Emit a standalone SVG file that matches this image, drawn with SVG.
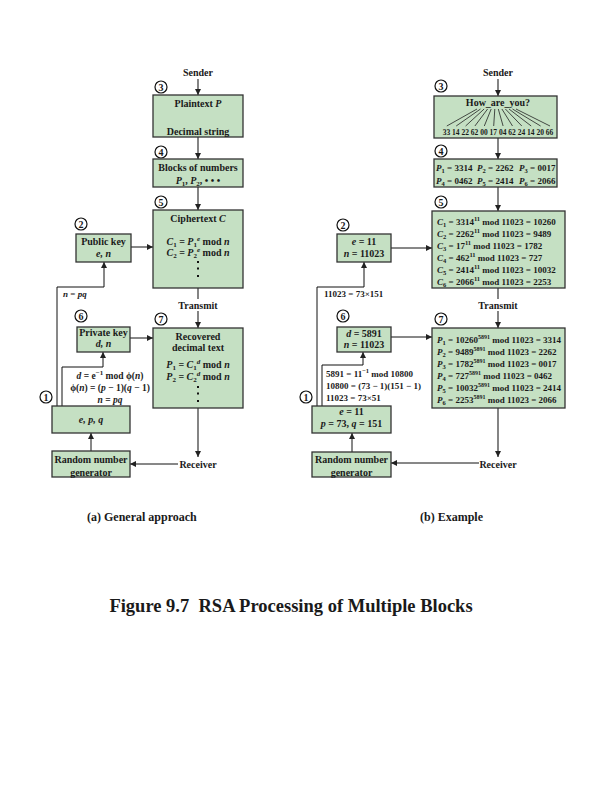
<svg xmlns="http://www.w3.org/2000/svg" width="612" height="792" viewBox="0 0 612 792">
<style>
text{font-family:"Liberation Serif","Times New Roman",serif;font-weight:bold;fill:#1a1a1a}
.t{font-size:10px;text-anchor:middle}
.s{font-size:9px}
.f{font-size:9.5px;text-anchor:middle}
.i{font-style:italic}
.box{fill:#c5e0c3;stroke:#333;stroke-width:1.3}
.main{stroke:#666;stroke-width:1.6;fill:none}
.thin{stroke:#111;stroke-width:1;fill:none}
.fan{stroke:#222;stroke-width:0.8}
.cn{fill:#fff;stroke:#111;stroke-width:1.2}
.cl{font-size:10px;text-anchor:middle}
.dot{fill:#111}
</style>
<defs>
<marker id="ah" markerWidth="6" markerHeight="6" refX="6" refY="3" orient="auto" markerUnits="userSpaceOnUse">
<path d="M0,0 L6,3 L0,6 z" fill="#222"/>
</marker>
</defs>
<rect width="612" height="792" fill="#fff"/>

<g id="connectors">
<line class="main" x1="198" y1="79" x2="198" y2="95" marker-end="url(#ah)"/>
<line class="main" x1="198" y1="110" x2="198" y2="125" marker-end="url(#ah)"/>
<line class="main" x1="198" y1="137" x2="198" y2="159" marker-end="url(#ah)"/>
<line class="main" x1="198" y1="187" x2="198" y2="210" marker-end="url(#ah)"/>
<line class="main" x1="198" y1="288" x2="198" y2="299"/>
<line class="main" x1="198" y1="311" x2="198" y2="328" marker-end="url(#ah)"/>
<line class="main" x1="198" y1="408" x2="198" y2="457" marker-end="url(#ah)"/>
<line class="thin" x1="131" y1="247" x2="153" y2="247" marker-end="url(#ah)"/>
<line class="thin" x1="130" y1="338" x2="153" y2="338" marker-end="url(#ah)"/>
<polyline class="thin" points="57,406 57,287 104,287 104,262" marker-end="url(#ah)"/>
<polyline class="thin" points="62,406 62,367 103,367 103,352" marker-end="url(#ah)"/>
<line class="thin" x1="91" y1="451" x2="91" y2="433" marker-end="url(#ah)"/>
<line class="thin" x1="178" y1="464" x2="130" y2="464" marker-end="url(#ah)"/>
<line class="main" x1="498" y1="79" x2="498" y2="96" marker-end="url(#ah)"/>
<line class="main" x1="498" y1="138" x2="498" y2="159" marker-end="url(#ah)"/>
<line class="main" x1="498" y1="187" x2="498" y2="211" marker-end="url(#ah)"/>
<line class="main" x1="498" y1="288" x2="498" y2="299"/>
<line class="main" x1="498" y1="311" x2="498" y2="328" marker-end="url(#ah)"/>
<line class="main" x1="498" y1="408" x2="498" y2="457" marker-end="url(#ah)"/>
<line class="thin" x1="391" y1="248" x2="432" y2="248" marker-end="url(#ah)"/>
<line class="thin" x1="391" y1="337" x2="432" y2="337" marker-end="url(#ah)"/>
<polyline class="thin" points="317,406 317,287 364,287 364,262" marker-end="url(#ah)"/>
<polyline class="thin" points="322,406 322,365 363,365 363,352" marker-end="url(#ah)"/>
<line class="thin" x1="352" y1="452" x2="352" y2="433" marker-end="url(#ah)"/>
<line class="thin" x1="479" y1="463" x2="391" y2="463" marker-end="url(#ah)"/>
</g>

<g id="sender-a"><text class="t" x="198" y="76">Sender</text></g>

<g id="step3-a">
<circle class="cn" cx="161" cy="87" r="6"/><text class="cl" x="161" y="90.5">3</text>
<rect class="box" x="153" y="95" width="90" height="42"/>
<text class="t" x="198" y="106.5">Plaintext <tspan class="i">P</tspan></text>
<text class="t" x="198" y="135">Decimal string</text>
</g>

<g id="step4-a">
<circle class="cn" cx="161" cy="152" r="6"/><text class="cl" x="161" y="155.5">4</text>
<rect class="box" x="153" y="159" width="90" height="28"/>
<text class="t" x="198" y="170.5">Blocks of numbers</text>
<text class="t" x="198" y="184"><tspan class="i">P</tspan><tspan font-size="7" dy="2">1</tspan><tspan dy="-2">, </tspan><tspan class="i">P</tspan><tspan font-size="7" dy="2">2</tspan><tspan dy="-2">, • • •</tspan></text>
</g>

<g id="step5-a">
<circle class="cn" cx="161" cy="202" r="6"/><text class="cl" x="161" y="205.5">5</text>
<rect class="box" x="153" y="210" width="90" height="78"/>
<text class="t" x="198" y="221.5">Ciphertext <tspan class="i">C</tspan></text>
<text class="t" x="198" y="245"><tspan class="i">C</tspan><tspan font-size="7" dy="2">1</tspan><tspan dy="-2"> = </tspan><tspan class="i">P</tspan><tspan font-size="7" dy="2">1</tspan><tspan font-size="7" class="i" dy="-6">e</tspan><tspan dy="4"> mod </tspan><tspan class="i">n</tspan></text>
<text class="t" x="198" y="256"><tspan class="i">C</tspan><tspan font-size="7" dy="2">2</tspan><tspan dy="-2"> = </tspan><tspan class="i">P</tspan><tspan font-size="7" dy="2">2</tspan><tspan font-size="7" class="i" dy="-6">e</tspan><tspan dy="4"> mod </tspan><tspan class="i">n</tspan></text>
<rect class="dot" x="197" y="261" width="2" height="2"/>
<rect class="dot" x="197" y="267.5" width="2" height="2"/>
<rect class="dot" x="197" y="275" width="2" height="2"/>
</g>

<g id="step2-a">
<circle class="cn" cx="81" cy="224" r="6"/><text class="cl" x="81" y="227.5">2</text>
<rect class="box" x="76" y="234" width="55" height="28"/>
<text class="t" x="103.5" y="244.5">Public key</text>
<text class="t i" x="103.5" y="256.5">e, n</text>
<text class="s i" x="63" y="297">n <tspan font-style="normal">=</tspan> pq</text>
</g>

<g id="transmit-a"><text class="t" x="198" y="308.5">Transmit</text></g>

<g id="step6-a">
<circle class="cn" cx="81" cy="316" r="6"/><text class="cl" x="81" y="319.5">6</text>
<rect class="box" x="77" y="327" width="53" height="25"/>
<text class="t" x="103.5" y="335.5">Private key</text>
<text class="t i" x="103.5" y="347">d, n</text>
</g>

<g id="step7-a">
<circle class="cn" cx="161" cy="319" r="6"/><text class="cl" x="161" y="322.5">7</text>
<rect class="box" x="153" y="328" width="90" height="80"/>
<text class="t" x="198" y="339.5">Recovered</text>
<text class="t" x="198" y="351">decimal text</text>
<text class="t" x="198" y="367.5"><tspan class="i">P</tspan><tspan font-size="7" dy="2">1</tspan><tspan dy="-2"> = </tspan><tspan class="i">C</tspan><tspan font-size="7" dy="2">1</tspan><tspan font-size="7" class="i" dy="-6">d</tspan><tspan dy="4"> mod </tspan><tspan class="i">n</tspan></text>
<text class="t" x="198" y="380"><tspan class="i">P</tspan><tspan font-size="7" dy="2">2</tspan><tspan dy="-2"> = </tspan><tspan class="i">C</tspan><tspan font-size="7" dy="2">2</tspan><tspan font-size="7" class="i" dy="-6">d</tspan><tspan dy="4"> mod </tspan><tspan class="i">n</tspan></text>
<rect class="dot" x="197" y="386" width="2" height="2"/>
<rect class="dot" x="197" y="392.5" width="2" height="2"/>
<rect class="dot" x="197" y="400" width="2" height="2"/>
</g>

<g id="formulas-a">
<text class="f" x="110" y="378.5"><tspan class="i">d</tspan> = e<tspan font-size="7" dy="-4">−1</tspan><tspan dy="4"> mod ϕ(</tspan><tspan class="i">n</tspan>)</text>
<text class="f" x="110" y="390.5">ϕ(<tspan class="i">n</tspan>) = (<tspan class="i">p</tspan> − 1)(<tspan class="i">q</tspan> − 1)</text>
<text class="f" x="110" y="402.5"><tspan class="i">n</tspan> = <tspan class="i">pq</tspan></text>
</g>

<g id="step1-a">
<circle class="cn" cx="46" cy="397" r="6"/><text class="cl" x="46" y="400.5">1</text>
<rect class="box" x="52" y="406" width="78" height="27"/>
<text class="t i" x="91" y="422.5">e, p, q</text>
</g>

<g id="rng-a">
<rect class="box" x="52" y="451" width="78" height="26"/>
<text class="t" x="91" y="462.5">Random number</text>
<text class="t" x="91" y="475.5">generator</text>
</g>

<g id="receiver-a"><text class="t" x="198" y="467.5">Receiver</text></g>

<g id="sender-b"><text class="t" x="498" y="76">Sender</text></g>

<g id="step3-b">
<circle class="cn" cx="441" cy="86" r="6"/><text class="cl" x="441" y="89.5">3</text>
<rect class="box" x="434" y="96" width="123" height="42"/>
<text class="t" x="498" y="106" font-size="10.5">How_are_you?</text>
<g class="fan">
<line x1="477" y1="109" x2="446.8" y2="126"/>
<line x1="480.5" y1="109" x2="456.2" y2="126"/>
<line x1="484.1" y1="109" x2="465.6" y2="126"/>
<line x1="487.6" y1="109" x2="474.9" y2="126"/>
<line x1="491.2" y1="109" x2="484.3" y2="126"/>
<line x1="494.8" y1="109" x2="493.7" y2="126"/>
<line x1="498.3" y1="109" x2="503.1" y2="126"/>
<line x1="501.9" y1="109" x2="512.5" y2="126"/>
<line x1="505.4" y1="109" x2="521.8" y2="126"/>
<line x1="509" y1="109" x2="531.2" y2="126"/>
<line x1="512.5" y1="109" x2="540.6" y2="126"/>
<line x1="516" y1="109" x2="550" y2="126"/>
</g>
<text font-size="7.5" x="498" y="134.5" text-anchor="middle">33 14 22 62 00 17 04 62 24 14 20 66</text>
</g>

<g id="step4-b">
<circle class="cn" cx="441" cy="151" r="6"/><text class="cl" x="441" y="154.5">4</text>
<rect class="box" x="434" y="159" width="123" height="28"/>
<text class="s" y="171"><tspan x="436" class="i">P</tspan><tspan font-size="6.5" dy="2">1</tspan><tspan dy="-2"> = 3314</tspan><tspan x="477" class="i">P</tspan><tspan font-size="6.5" dy="2">2</tspan><tspan dy="-2"> = 2262</tspan><tspan x="519" class="i">P</tspan><tspan font-size="6.5" dy="2">3</tspan><tspan dy="-2"> = 0017</tspan></text>
<text class="s" y="184"><tspan x="436" class="i">P</tspan><tspan font-size="6.5" dy="2">4</tspan><tspan dy="-2"> = 0462</tspan><tspan x="477" class="i">P</tspan><tspan font-size="6.5" dy="2">5</tspan><tspan dy="-2"> = 2414</tspan><tspan x="519" class="i">P</tspan><tspan font-size="6.5" dy="2">6</tspan><tspan dy="-2"> = 2066</tspan></text>
</g>

<g id="step5-b">
<circle class="cn" cx="441" cy="202" r="6"/><text class="cl" x="441" y="205.5">5</text>
<rect class="box" x="432" y="211" width="133" height="77"/>
<text class="s" x="437" y="224.5"><tspan class="i">C</tspan><tspan font-size="6.5" dy="2">1</tspan><tspan dy="-2"> = 3314</tspan><tspan font-size="6.5" dy="-4">11</tspan><tspan dy="4"> mod 11023 = 10260</tspan></text>
<text class="s" x="437" y="236.5"><tspan class="i">C</tspan><tspan font-size="6.5" dy="2">2</tspan><tspan dy="-2"> = 2262</tspan><tspan font-size="6.5" dy="-4">11</tspan><tspan dy="4"> mod 11023 = 9489</tspan></text>
<text class="s" x="437" y="248.5"><tspan class="i">C</tspan><tspan font-size="6.5" dy="2">3</tspan><tspan dy="-2"> = 17</tspan><tspan font-size="6.5" dy="-4">11</tspan><tspan dy="4"> mod 11023 = 1782</tspan></text>
<text class="s" x="437" y="260.5"><tspan class="i">C</tspan><tspan font-size="6.5" dy="2">4</tspan><tspan dy="-2"> = 462</tspan><tspan font-size="6.5" dy="-4">11</tspan><tspan dy="4"> mod 11023 = 727</tspan></text>
<text class="s" x="437" y="272.5"><tspan class="i">C</tspan><tspan font-size="6.5" dy="2">5</tspan><tspan dy="-2"> = 2414</tspan><tspan font-size="6.5" dy="-4">11</tspan><tspan dy="4"> mod 11023 = 10032</tspan></text>
<text class="s" x="437" y="284.5"><tspan class="i">C</tspan><tspan font-size="6.5" dy="2">6</tspan><tspan dy="-2"> = 2066</tspan><tspan font-size="6.5" dy="-4">11</tspan><tspan dy="4"> mod 11023 = 2253</tspan></text>
</g>

<g id="step2-b">
<circle class="cn" cx="343" cy="225" r="6"/><text class="cl" x="343" y="228.5">2</text>
<rect class="box" x="337" y="234" width="54" height="28"/>
<text class="t" x="364" y="244.5"><tspan class="i">e</tspan> = 11</text>
<text class="t" x="364" y="256.5"><tspan class="i">n</tspan> = 11023</text>
<text class="s" x="324" y="297">11023 = 73×151</text>
</g>

<g id="transmit-b"><text class="t" x="498" y="308.5">Transmit</text></g>

<g id="step6-b">
<circle class="cn" cx="343" cy="316" r="6"/><text class="cl" x="343" y="319.5">6</text>
<rect class="box" x="337" y="327" width="54" height="25"/>
<text class="t" x="364" y="336.5"><tspan class="i">d</tspan> = 5891</text>
<text class="t" x="364" y="348"><tspan class="i">n</tspan> = 11023</text>
</g>

<g id="step7-b">
<circle class="cn" cx="441" cy="319" r="6"/><text class="cl" x="441" y="322.5">7</text>
<rect class="box" x="432" y="328" width="133" height="80"/>
<text class="s" x="437" y="342.5"><tspan class="i">P</tspan><tspan font-size="6.5" dy="2">1</tspan><tspan dy="-2"> = 10260</tspan><tspan font-size="6" dy="-4">5891</tspan><tspan dy="4"> mod 11023 = 3314</tspan></text>
<text class="s" x="437" y="354.5"><tspan class="i">P</tspan><tspan font-size="6.5" dy="2">2</tspan><tspan dy="-2"> = 9489</tspan><tspan font-size="6" dy="-4">5891</tspan><tspan dy="4"> mod 11023 = 2262</tspan></text>
<text class="s" x="437" y="366.5"><tspan class="i">P</tspan><tspan font-size="6.5" dy="2">3</tspan><tspan dy="-2"> = 1782</tspan><tspan font-size="6" dy="-4">5891</tspan><tspan dy="4"> mod 11023 = 0017</tspan></text>
<text class="s" x="437" y="378.5"><tspan class="i">P</tspan><tspan font-size="6.5" dy="2">4</tspan><tspan dy="-2"> = 727</tspan><tspan font-size="6" dy="-4">5891</tspan><tspan dy="4"> mod 11023 = 0462</tspan></text>
<text class="s" x="437" y="390.5"><tspan class="i">P</tspan><tspan font-size="6.5" dy="2">5</tspan><tspan dy="-2"> = 10032</tspan><tspan font-size="6" dy="-4">5891</tspan><tspan dy="4"> mod 11023 = 2414</tspan></text>
<text class="s" x="437" y="402.5"><tspan class="i">P</tspan><tspan font-size="6.5" dy="2">6</tspan><tspan dy="-2"> = 2253</tspan><tspan font-size="6" dy="-4">5891</tspan><tspan dy="4"> mod 11023 = 2066</tspan></text>
</g>

<g id="formulas-b">
<text class="s" x="326" y="377">5891 = 11<tspan font-size="6.5" dy="-4">−1</tspan><tspan dy="4"> mod 10800</tspan></text>
<text class="s" x="326" y="389">10800 = (73 − 1)(151 − 1)</text>
<text class="s" x="326" y="401">11023 = 73×51</text>
</g>

<g id="step1-b">
<circle class="cn" cx="306" cy="397" r="6"/><text class="cl" x="306" y="400.5">1</text>
<rect class="box" x="312" y="406" width="79" height="27"/>
<text class="t" x="351.5" y="415"><tspan class="i">e</tspan> = 11</text>
<text class="t" x="351.5" y="427"><tspan class="i">p</tspan> = 73, <tspan class="i">q</tspan> = 151</text>
</g>

<g id="rng-b">
<rect class="box" x="312" y="452" width="79" height="25"/>
<text class="t" x="351.5" y="462.5">Random number</text>
<text class="t" x="351.5" y="475.5">generator</text>
</g>

<g id="receiver-b"><text class="t" x="498" y="467.5">Receiver</text></g>

<g id="captions">
<text font-size="12" x="87" y="521">(a) General approach</text>
<text font-size="12" x="420" y="521">(b) Example</text>
<text font-size="18.5" x="291" y="611.5" text-anchor="middle" style="white-space:pre">Figure 9.7  RSA Processing of Multiple Blocks</text>
</g>
</svg>
